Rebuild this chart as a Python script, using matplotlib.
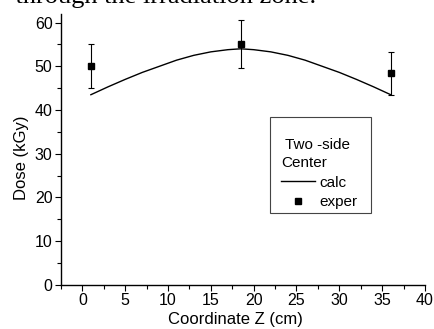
import matplotlib
matplotlib.use("Agg")
import matplotlib.pyplot as plt
from matplotlib.ticker import MultipleLocator
from matplotlib.lines import Line2D
from matplotlib.patches import Rectangle

plt.rcParams['font.family'] = ['Liberation Sans', 'DejaVu Sans']

# calculated dose profile along Z
calc_z = [1, 3, 5, 7, 9, 11, 13, 15, 17, 18.5, 20, 22, 24, 26, 28, 30, 32, 34, 36]
calc_dose = [43.5, 45.3, 47.0, 48.6, 50.0, 51.4, 52.5, 53.3, 53.8, 54.0,
             53.8, 53.3, 52.5, 51.4, 50.0, 48.6, 47.0, 45.3, 43.5]

# measured points with error bars
exper_z = [1, 18.5, 36]
exper_dose = [50.0, 55.2, 48.4]
exper_lo = [45.0, 49.7, 43.5]
exper_hi = [55.0, 60.7, 53.2]

fig = plt.figure(figsize=(4.35, 3.29), dpi=100)
ax = fig.add_axes([0.140, 0.134, 0.837, 0.824])

ax.plot(calc_z, calc_dose, 'k-', lw=1.0)
yerr = [[d - lo for d, lo in zip(exper_dose, exper_lo)],
        [hi - d for d, hi in zip(exper_dose, exper_hi)]]
ax.errorbar(exper_z, exper_dose, yerr=yerr, fmt='ks', ms=4.5, ecolor='k',
            elinewidth=0.8, capsize=2.3, capthick=0.8)

ax.set_xlim(-2.5, 40)
ax.set_ylim(0, 62)
ax.xaxis.set_major_locator(MultipleLocator(5))
ax.xaxis.set_minor_locator(MultipleLocator(2.5))
ax.yaxis.set_major_locator(MultipleLocator(10))
ax.yaxis.set_minor_locator(MultipleLocator(5))
ax.tick_params(which='both', direction='out', width=0.8, labelsize=11.5, pad=2)
ax.tick_params(which='major', length=4)
ax.tick_params(which='minor', length=3)
for s in ['top', 'right']:
    ax.spines[s].set_visible(False)
for s in ['left', 'bottom']:
    ax.spines[s].set_linewidth(1.0)

ax.set_xlabel('Coordinate Z (cm)', fontsize=12, labelpad=3)
ax.set_ylabel('Dose (kGy)', fontsize=12, labelpad=4)
# the original labels sit a little off the axis centres
ax.xaxis.label.set_x(0.479)
ax.yaxis.label.set_y(0.47)

# legend: frame drawn separately so the padding can match the original box
ax.add_patch(Rectangle((0.574, 0.266), 0.278, 0.354, transform=ax.transAxes,
                       fill=False, ec='#444444', lw=0.8, clip_on=False))
handles = [Line2D([], [], color='k', lw=1.0),
           Line2D([], [], color='k', marker='s', ms=4.5, ls='none')]
leg = ax.legend(handles, ['calc', 'exper'], title=' Two -side\nCenter',
                alignment='left', fontsize=11, title_fontsize=11,
                loc='upper left', bbox_to_anchor=(0.604, 0.5425),
                borderaxespad=0, borderpad=0, frameon=False,
                handlelength=2.25, handletextpad=0.27,
                labelspacing=0.35, numpoints=1)
leg.get_title().set_linespacing(1.42)

# caption of the surrounding page, cut off at the top
fig.text(0.0, 0.991, '- through the irradiation zone.', family='Liberation Serif',
         fontsize=19, va='baseline', ha='left')

fig.savefig('out.png', dpi=100)
